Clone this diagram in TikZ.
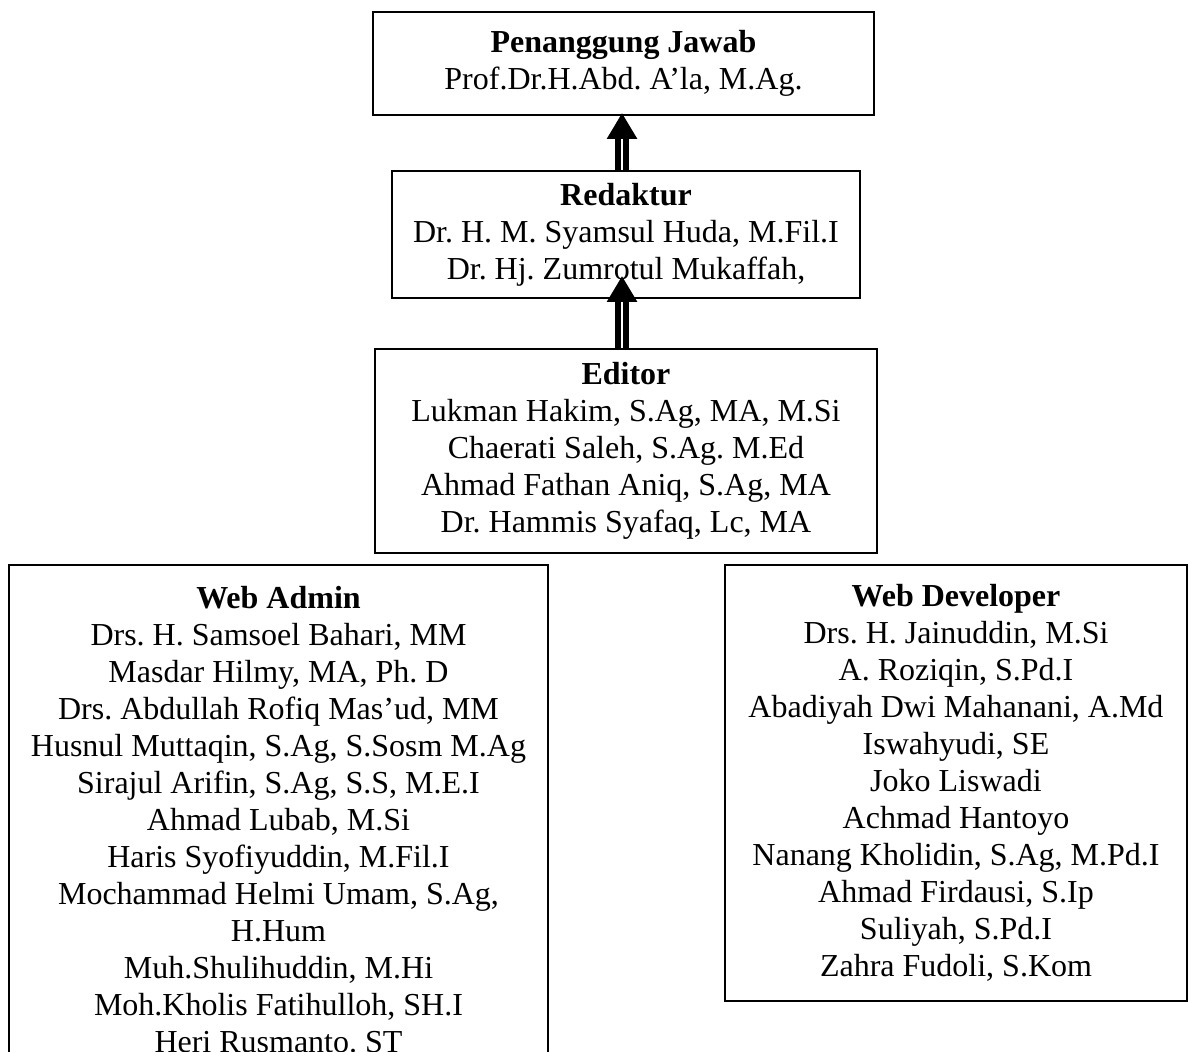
\documentclass[tikz,border=0pt]{standalone}
\usepackage{fontspec}
\setmainfont{Liberation Serif}
\usetikzlibrary{arrows.meta}
\frenchspacing
\begin{document}
\begin{tikzpicture}[x=0.5pt,y=-0.5pt,
  box/.style={draw,line width=1pt,align=center,inner sep=0pt,
    font=\fontsize{16}{18.5}\selectfont},
  uparrow/.style={line width=3pt,double=white,double distance=1pt,
    -{Triangle[width=14.5pt,length=13pt]}}]
\useasboundingbox (0,0) rectangle (1195,1052);
\coordinate (ax) at (622,0);
\node[box,minimum width=250.5pt,minimum height=51.5pt] (pj) at (623.5,63.5)
  {\textbf{Penanggung Jawab}\\Prof.Dr.H.Abd. A’la, M.Ag.};
\node[box,minimum width=234pt,minimum height=63.5pt] (red) at (626,234.5)
  {\textbf{Redaktur}\\Dr. H. M. Syamsul Huda, M.Fil.I\\Dr. Hj. Zumrotul Mukaffah,};
\node[box,minimum width=251pt,minimum height=102pt] (ed) at (626,451)
  {\textbf{Editor}\\Lukman Hakim, S.Ag, MA, M.Si\\Chaerati Saleh, S.Ag. M.Ed\\
   Ahmad Fathan Aniq, S.Ag, MA\\Dr. Hammis Syafaq, Lc, MA};
\node[box,minimum width=269.5pt,minimum height=255pt] (wa) at (278.5,820)
  {\textbf{Web Admin}\\Drs. H. Samsoel Bahari, MM\\Masdar Hilmy, MA, Ph. D\\
   Drs. Abdullah Rofiq Mas’ud, MM\\Husnul Muttaqin, S.Ag, S.Sosm M.Ag\\
   Sirajul Arifin, S.Ag, S.S, M.E.I\\Ahmad Lubab, M.Si\\
   Haris Syofiyuddin, M.Fil.I\\Mochammad Helmi Umam, S.Ag,\\H.Hum\\
   Muh.Shulihuddin, M.Hi\\Moh.Kholis Fatihulloh, SH.I\\Heri Rusmanto. ST};
\node[box,minimum width=231pt,minimum height=218pt] (wd) at (956,783)
  {\textbf{Web Developer}\\Drs. H. Jainuddin, M.Si\\A. Roziqin, S.Pd.I\\
   Abadiyah Dwi Mahanani, A.Md\\Iswahyudi, SE\\Joko Liswadi\\Achmad Hantoyo\\
   Nanang Kholidin, S.Ag, M.Pd.I\\Ahmad Firdausi, S.Ip\\Suliyah, S.Pd.I\\
   Zahra Fudoli, S.Kom};
% arrows up the chain
\draw[uparrow] (red.north -| ax) -- ([yshift=1.5pt]pj.south -| ax);
\draw[uparrow] (ed.north -| ax) -- ([yshift=11.5pt]red.south -| ax);
\end{tikzpicture}
\end{document}
